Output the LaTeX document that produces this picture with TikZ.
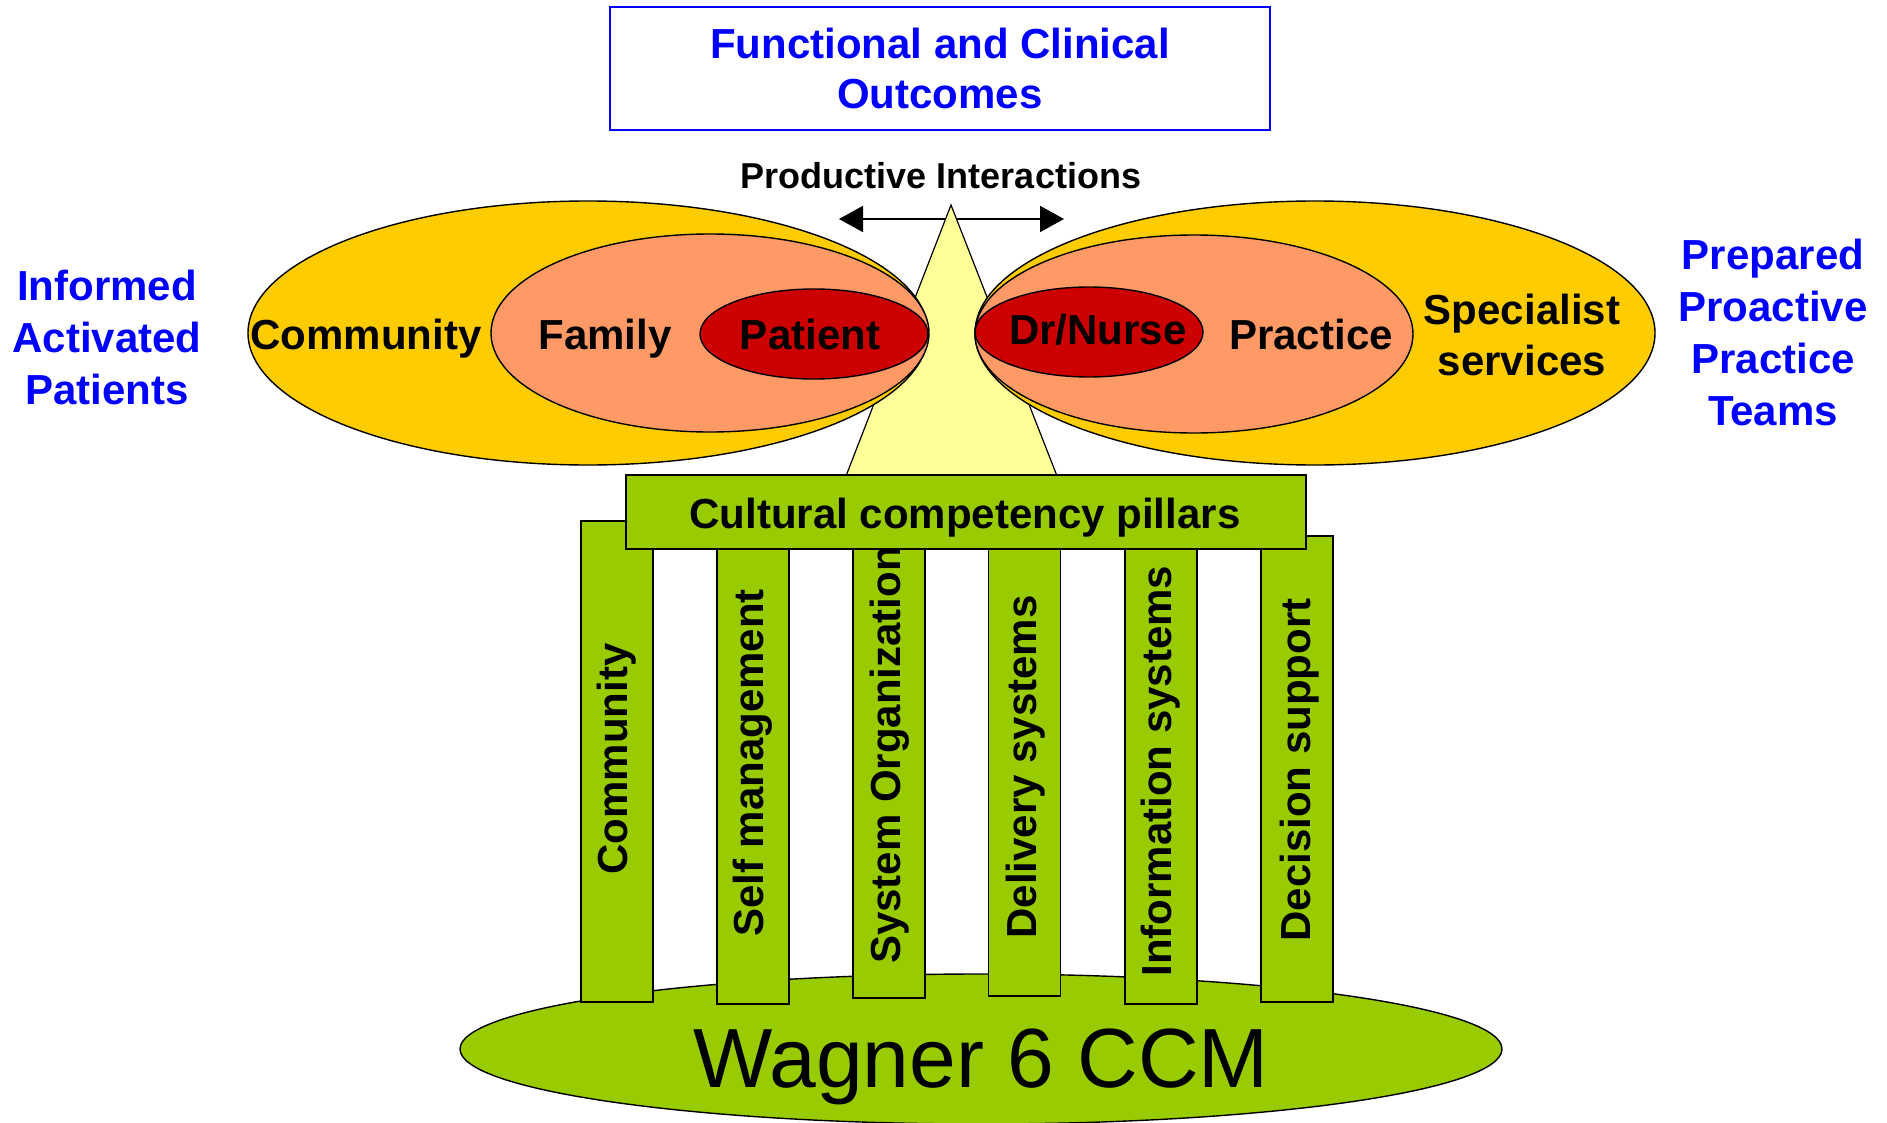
\documentclass[tikz,border=0pt]{standalone}
\usepackage{fontspec}
\setmainfont{Liberation Sans}
\usepackage{tikz}
\usetikzlibrary{shapes.geometric,arrows.meta,positioning}
\definecolor{ccmyellow}{HTML}{FFCC00}
\definecolor{ccmsalmon}{HTML}{FF9966}
\definecolor{ccmred}{HTML}{CC0000}
\definecolor{ccmgreen}{HTML}{99CC00}
\definecolor{ccmpale}{HTML}{FFFF99}
\definecolor{ccmblue}{HTML}{0000FF}

\begin{document}
\begin{tikzpicture}[x=1pt, y=-1pt,
	ring/.style={draw, ellipse, line width=1.4pt, inner sep=0},
	pillar/.style={draw, fill=ccmgreen, line width=1.4pt, minimum width=72pt, inner sep=0},
	lbl/.style={font=\fontsize{42}{51}\selectfont\bfseries, anchor=base, align=center},
	side/.style={font=\fontsize{42}{52}\selectfont\bfseries, anchor=base, align=center, text=ccmblue},
	pillarlbl/.style={font=\fontsize{42}{51}\selectfont\bfseries, rotate=90, anchor=center, inner sep=0}]
	\useasboundingbox (0,0) rectangle (1887,1123);
	% Outcomes
	\node[draw=ccmblue, line width=1.6pt, minimum width=660pt, minimum height=123pt, align=center, text=ccmblue, font=\fontsize{42}{50}\selectfont\bfseries] at (940, 68.5) (outcomes) {Functional and Clinical\\Outcomes};
	\node[anchor=base, font=\fontsize{36}{40}\selectfont\bfseries] at (941, 189) (prod) {Productive Interactions};
	% Interaction arrow and triangle
	\coordinate (pil) at (839, 219);
	\coordinate (pir) at (1064, 219);
	\draw[line width=2pt, {Triangle[length=24pt,width=26pt]}-{Triangle[length=24pt,width=26pt]}] (pil) -- (pir);
	\draw[line width=1.2pt, fill=ccmpale] (951,205) -- (846,476) -- (1057,476) -- cycle;
	% Patient side
	\node[ring, fill=ccmyellow, minimum width=680pt, minimum height=264pt] at (588, 333) (lout) {};
	\node[ring, fill=ccmsalmon, minimum width=438pt, minimum height=198pt] at (710, 333) (lmid) {};
	\node[ring, fill=ccmred, minimum width=228pt, minimum height=90pt] at (814, 334) (lin) {};
	\node[lbl] at (366, 349) (community) {Community};
	\node[lbl] at (605, 349) (family) {Family};
	\node[lbl] at (810, 349) (patient) {Patient};
	% Practice side
	\node[ring, fill=ccmyellow, minimum width=680pt, minimum height=264pt] at (1315, 333) (rout) {};
	\node[ring, fill=ccmsalmon, minimum width=438pt, minimum height=198pt] at (1194, 334) (rmid) {};
	\node[ring, fill=ccmred, minimum width=228pt, minimum height=90pt] at (1089, 332) (rin) {};
	\node[lbl] at (1098, 344) (nurse) {Dr/Nurse};
	\node[lbl] at (1311, 349) (practice) {Practice};
	\node[lbl] at (1522, 375) (specialist) {Specialist\\services};
	% Side labels
	\node[side] at (107, 404) (informed) {Informed\\Activated\\Patients};
	\node[side] at (1773, 425) (prepared) {Prepared\\Proactive\\Practice\\Teams};
	% Base
	\node[ring, fill=ccmgreen, minimum width=1042pt, minimum height=150pt] at (981, 1049) (base) {};
	\node[anchor=base, font=\fontsize{84}{84}\selectfont] at (981, 1087) (wagner) {Wagner 6 CCM};
	% Pillars
	\node[pillar, minimum height=481pt] at (617, 761.5) (p1) {};
	\node[pillar, minimum height=464pt] at (753, 772) (p2) {};
	\node[pillar, minimum height=458pt] at (889, 769) (p3) {};
	\node[pillar, minimum height=456pt] at (1024.5, 768) (p4) {};
	\node[pillar, minimum height=464pt] at (1161, 772) (p5) {};
	\node[pillar, minimum height=466pt] at (1297, 769) (p6) {};
	\node[pillarlbl] at (617, 759) (p1l) {Community};
	\node[pillarlbl] at (753, 763) (p2l) {Self management};
	\node[pillarlbl] at (890, 755) (p3l) {System Organization};
	\node[pillarlbl] at (1026, 767) (p4l) {Delivery systems};
	\node[pillarlbl] at (1161, 771) (p5l) {Information systems};
	\node[pillarlbl] at (1300, 770) (p6l) {Decision support};
	% Lintel
	\node[draw, fill=ccmgreen, line width=1.4pt, minimum width=680pt, minimum height=74pt] at (966, 512) (lintel) {};
	\node[lbl] at (965, 528) (lintelname) {Cultural competency pillars};
\end{tikzpicture}
\end{document}
